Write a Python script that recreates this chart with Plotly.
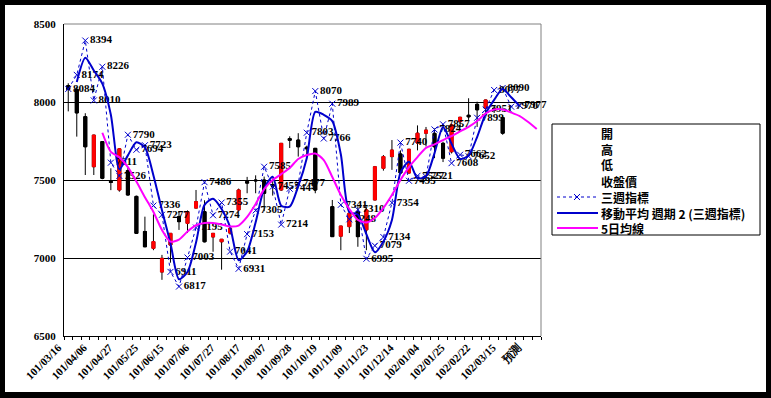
import plotly.graph_objects as go
import pandas as pd

# ---- data ----
week_labels = ["101/03/16", "101/04/06", "101/04/27", "101/05/25", "101/06/15", "101/07/06",
               "101/07/27", "101/08/17", "101/09/07", "101/09/28", "101/10/19", "101/11/09",
               "101/11/23", "101/12/14", "102/01/04", "102/01/25", "102/02/22", "102/03/15", "預測"]
label_pos = list(range(0, 55, 3))

open_ = [8105, 8080, 7906, 7585, 7746, 7490, 7436, 7560, 7395, 7170, 7062, 6910, 7083,
         7265, 7222, 7320, 7297, 7135, 7104, 7160, 7308, 7490, 7500, 7500, 7470, 7436,
         7765, 7756, 7710, 7703, None, 7329, 7140, 7201, 7297, 7180, 7372, 7575, 7650,
         7667, 7545, 7737, 7800, 7799, 7735, 7681, 7874, 7915, 7985, 7960, 7960, 7900]
high = [8120, 8095, 7928, 7790, 7750, 7575, 7705, 7580, 7400, 7265, 7280, 7020, 7160,
        7300, 7305, 7436, 7370, 7160, 7122, 7200, 7445, 7520, 7530, 7522, 7510, 7736,
        7780, 7800, 7720, 7705, None, 7372, 7205, 7300, 7330, 7320, 7590, 7660, 7756,
        7690, 7700, 7850, 7840, 7830, 7745, 7860, 7905, 8024, 8002, 8015, 7975, 7917]
low = [7940, 7778, 7532, 7532, 7505, 7435, 7425, 7400, 7155, 7070, 7050, 6860, 6970,
       7180, 7160, 7318, 7100, 7040, 6925, 7150, 7300, 7415, 7415, 7300, 7400, 7430,
       7705, 7650, 7665, 7415, None, 7135, 7050, 7160, 7072, 7050, 7370, 7560, 7565,
       7543, 7540, 7690, 7715, 7640, 7615, 7670, 7840, 7885, 7840, 7935, 7930, 7790]
close = [8080, 7930, 7713, 7788, 7511, 7485, 7700, 7404, 7158, 7072, 7105, 6998, 7158,
         7233, 7297, 7361, 7104, 7158, 7120, 7190, 7436, 7480, 7495, 7415, 7460, 7735,
         7755, 7713, 7700, 7436, None, 7137, 7205, 7287, 7137, 7308, 7585, 7650, 7692,
         7545, 7697, 7800, 7820, 7713, 7640, 7853, 7902, 7905, 7950, 8013, 7945, 7800]

three_week = [8084, 8174, 8394, 8010, 8226, 7611, 7526, 7790, 7694, 7723, 7336, 7277, 6911,
              6817, 7003, 7195, 7486, 7274, 7355, 7041, 6931, 7153, 7305, 7585, 7457, 7214,
              7444, 7477, 7803, 8070, 7766, 7989, 7341, 7248, 7310, 6995, 7079, 7134, 7354,
              7740, 7495, 7527, 7521, 7824, 7857, 7608, 7662, 7652, 7899, 7951, 8077, 8090,
              7970, 7977]

ma5_start = 4
ma5 = [7803, 7680, 7645, 7583, 7490, 7390, 7295, 7180, 7105, 7118,
       7170, 7210, 7224, 7224, 7215, 7202, 7208, 7263, 7346, 7442,
       7500, 7538, 7577, 7635, 7660, 7670, 7628, 7519, 7404, 7314,
       7244, 7228, 7256, 7321, 7404, 7500, 7583, 7647, 7706, 7728,
       7756, 7782, 7811, 7840, 7878, 7926, 7952, 7952, 7933, 7910,
       7872, 7827]

y_ticks = [6500, 7000, 7500, 8000, 8500]

legend_names = ["開", "高", "低", "收盤價", "三週指標", "移動平均 週期 2 (三週指標)", "5日均線"]

# ---- derived ----
n_cat = 56
xc = list(range(len(close)))
x3 = list(range(len(three_week)))
ma2 = pd.Series(three_week).rolling(2).mean()
x5 = list(range(ma5_start, ma5_start + len(ma5)))
body_hi = [None if o is None else max(o, c) for o, c in zip(open_, close)]
body_lo = [None if o is None else min(o, c) for o, c in zip(open_, close)]

W, H = 771, 398
L, R, T, B = 64, 541, 24, 336

def px(v):
    return (v - L) / (R - L)

def py(v):
    return (B - v) / (B - T)

serif = "Liberation Serif"
cjk = "Noto Sans CJK TC"
BLUE = "#0000CC"
MAG = "#FF00FF"

fig = go.Figure()

fig.add_trace(go.Candlestick(
    x=xc, open=open_, high=high, low=low, close=close, showlegend=False,
    increasing=dict(line=dict(color="black", width=1), fillcolor="red"),
    decreasing=dict(line=dict(color="black", width=1), fillcolor="black"),
    whiskerwidth=0, hoverinfo="skip"))
fig.add_trace(go.Candlestick(
    x=xc, open=open_, high=body_hi, low=body_lo, close=close, showlegend=False,
    increasing=dict(line=dict(color="red", width=1), fillcolor="red"),
    decreasing=dict(line=dict(color="black", width=1), fillcolor="black"),
    whiskerwidth=0, hoverinfo="skip"))

fig.add_trace(go.Scatter(
    x=x3, y=three_week, name=legend_names[4], mode="lines+markers+text", showlegend=False,
    line=dict(color=BLUE, width=1, dash="dot"),
    marker=dict(symbol="x-thin", size=6, line=dict(color=BLUE, width=1)),
    text=[str(v) for v in three_week], textposition="middle right",
    textfont=dict(family=serif, size=11, color="black", weight="bold"), cliponaxis=False))

fig.add_trace(go.Scatter(
    x=x3, y=ma2, name=legend_names[5], mode="lines", showlegend=False,
    line=dict(color=BLUE, width=2, shape="spline", smoothing=0.7)))

fig.add_trace(go.Scatter(
    x=x5, y=ma5, name=legend_names[6], mode="lines", showlegend=False,
    line=dict(color=MAG, width=2, shape="spline", smoothing=0.7)))

shapes = [
    dict(type="rect", xref="paper", yref="paper", x0=px(5), x1=px(766), y0=py(392), y1=py(5),
         fillcolor="white", line=dict(width=0), layer="below"),
    dict(type="line", xref="paper", yref="paper", x0=0, x1=1, y0=1, y1=1,
         line=dict(color="#808080", width=1)),
    dict(type="line", xref="paper", yref="paper", x0=1, x1=1, y0=0, y1=1,
         line=dict(color="#808080", width=1)),
    dict(type="rect", xref="paper", yref="paper", x0=px(552), x1=px(760), y0=py(235), y1=py(124),
         fillcolor="white", line=dict(color="black", width=1)),
]

annotations = []
leg_y = [133, 149, 165, 181, 197, 213, 228]
for nm, yy in zip(legend_names, leg_y):
    annotations.append(dict(xref="paper", yref="paper", x=px(599), y=py(yy), text=nm,
                            showarrow=False, xanchor="left", yanchor="middle",
                            font=dict(family=cjk, size=12, color="black", weight="bold")))
shapes.append(dict(type="line", xref="paper", yref="paper", x0=px(557), x1=px(597),
                   y0=py(leg_y[4]), y1=py(leg_y[4]), line=dict(color=BLUE, width=1, dash="dot")))
mx, my, d = 577, leg_y[4], 3
shapes.append(dict(type="path", xref="paper", yref="paper",
                   path=f"M {px(mx-d)} {py(my-d)} L {px(mx+d)} {py(my+d)} M {px(mx-d)} {py(my+d)} L {px(mx+d)} {py(my-d)}",
                   line=dict(color=BLUE, width=1)))
shapes.append(dict(type="line", xref="paper", yref="paper", x0=px(557), x1=px(598),
                   y0=py(leg_y[5]), y1=py(leg_y[5]), line=dict(color=BLUE, width=2)))
shapes.append(dict(type="line", xref="paper", yref="paper", x0=px(557), x1=px(598),
                   y0=py(leg_y[6]), y1=py(leg_y[6]), line=dict(color=MAG, width=2)))

fig.update_layout(
    width=W, height=H,
    margin=dict(l=L, r=W - R, t=T, b=H - B, pad=0),
    paper_bgcolor="black", plot_bgcolor="white",
    shapes=shapes, annotations=annotations,
    showlegend=False, boxgap=0.5,
    xaxis=dict(range=[-0.5, n_cat - 0.5], tickmode="array", tickvals=label_pos,
               ticktext=week_labels, tickangle=-45, ticks="", showgrid=False,
               showline=True, linecolor="black", linewidth=1, zeroline=False,
               rangeslider=dict(visible=False), automargin=False,
               ticklabelshift=-10, ticklabelstandoff=0,
               tickfont=dict(family=serif, size=11, color="black", weight="bold"),
               minor=dict(tickmode="linear", tick0=-0.5, dtick=1, ticks="outside",
                          ticklen=3, tickcolor="black", showgrid=False)),
    yaxis=dict(range=[6500, 8500], tickmode="array", tickvals=y_ticks,
               ticktext=[str(v) for v in y_ticks], showgrid=True, gridcolor="black",
               gridwidth=1, showline=True, linecolor="black", linewidth=1,
               zeroline=False, ticks="", automargin=False, ticklabelstandoff=5,
               tickfont=dict(family=serif, size=11, color="black", weight="bold")),
)

fig.write_html("out.html", config={"displayModeBar": False},
               post_script="document.body.style.margin='0';document.body.style.overflow='hidden';")
